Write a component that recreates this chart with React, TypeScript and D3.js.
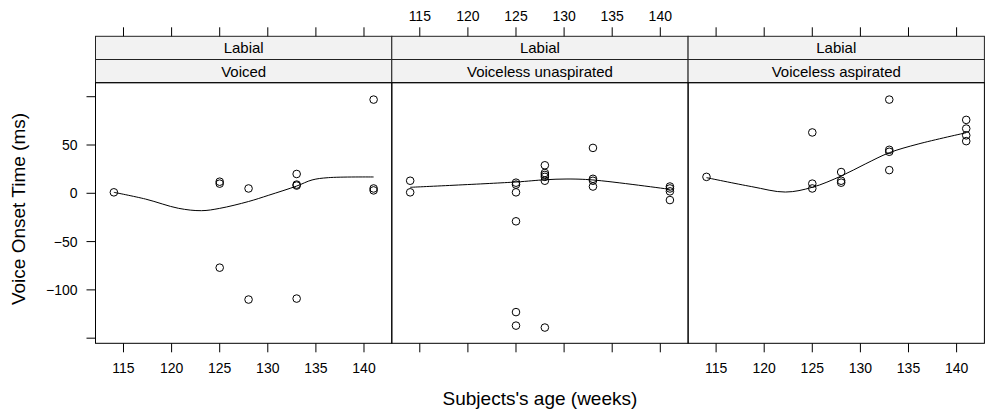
import { scaleLinear, line, curveCatmullRom } from 'd3';

const WIDTH = 985;
const HEIGHT = 414;
const FONT = '"Liberation Sans", Arial, Helvetica, sans-serif';

// panel geometry
const PANEL_LEFT = 95.5;
const PANEL_W = 296.3;
const PANEL_TOP = 82.7;
const PANEL_BOTTOM = 343.3;
const STRIP_TOP = 36.3;
const STRIP_H = 23.2;

const outerStrip = ['Labial', 'Labial', 'Labial'];
const innerStrip = ['Voiced', 'Voiceless unaspirated', 'Voiceless aspirated'];

const xTicks = [115, 120, 125, 130, 135, 140];
const yTicks = [100, 50, 0, -50, -100, -150];
const yLabelled = [50, 0, -50, -100];

// points
const voicedAge = [114, 125, 125, 125, 128, 128, 133, 133, 133, 133, 141, 141, 141];
const voicedVot = [1, 12, 10, -77, 5, -110, 20, 9, 8, -109, 97, 5, 3];

const unaspAge = [114, 114, 125, 125, 125, 125, 125, 125, 128, 128, 128, 128, 128, 128, 133, 133, 133, 133, 141, 141, 141, 141];
const unaspVot = [13, 1, 11, 9, 1, -29, -123, -137, 29, 21, 19, 17, 13, -139, 47, 15, 13, 7, 7, 5, 2, -7];

const aspAge = [114, 125, 125, 125, 128, 128, 128, 133, 133, 133, 133, 141, 141, 141, 141];
const aspVot = [17, 63, 10, 5, 22, 13, 11, 97, 45, 43, 24, 76, 67, 60, 54];

// smooth curves
const voicedSmoothAge = [114, 117.3, 120.7, 123.1, 125, 128, 130.1, 133, 134.6, 136.3, 141];
const voicedSmoothVot = [1, -6, -15.5, -18, -15.6, -8.5, -2, 7.5, 13.8, 16.2, 16.9];

const unaspSmoothAge = [114, 125, 128, 130.3, 133, 141];
const unaspSmoothVot = [6.2, 11.7, 14, 14.8, 13.8, 4.1];

const aspSmoothAge = [114, 118.7, 122.2, 125, 128, 130.5, 133, 136, 141];
const aspSmoothVot = [16.2, 6.9, 1.3, 6.2, 17.9, 30.3, 42, 51, 62.7];

const panels = [
  { age: voicedAge, vot: voicedVot, sAge: voicedSmoothAge, sVot: voicedSmoothVot },
  { age: unaspAge, vot: unaspVot, sAge: unaspSmoothAge, sVot: unaspSmoothVot },
  { age: aspAge, vot: aspVot, sAge: aspSmoothAge, sVot: aspSmoothVot },
];

export default function App() {
  const x = scaleLinear().domain([112.09, 142.89]).range([0, PANEL_W]);
  const y = scaleLinear().domain([-155.3, 114.5]).range([PANEL_BOTTOM, PANEL_TOP]);

  const smooth = line<[number, number]>()
    .x(d => x(d[0]))
    .y(d => y(d[1]))
    .curve(curveCatmullRom.alpha(0.5));

  return (
    <svg
      width={WIDTH}
      height={HEIGHT}
      style={{ position: 'absolute', left: 0, top: 0 }}
      fontFamily={FONT}
    >
      <rect width={WIDTH} height={HEIGHT} fill="#fff" />
      {panels.map((p, i) => {
        const left = PANEL_LEFT + i * PANEL_W;
        const pts = p.sAge.map((a, j) => [a, p.sVot[j]] as [number, number]);
        return (
          <g key={i}>
            {/* strips */}
            <rect x={left} y={STRIP_TOP} width={PANEL_W} height={STRIP_H} fill="#f2f2f2" stroke="#222" />
            <rect x={left} y={STRIP_TOP + STRIP_H} width={PANEL_W} height={STRIP_H} fill="#f2f2f2" stroke="#222" />
            <text x={left + PANEL_W / 2} y={STRIP_TOP + STRIP_H / 2 + 5.5} textAnchor="middle" fontSize={15}>
              {outerStrip[i]}
            </text>
            <text x={left + PANEL_W / 2} y={STRIP_TOP + STRIP_H * 1.5 + 5.5} textAnchor="middle" fontSize={15}>
              {innerStrip[i]}
            </text>

            {/* ticks top and bottom */}
            {xTicks.map(t => (
              <g key={t}>
                <line x1={left + x(t)} x2={left + x(t)} y1={STRIP_TOP} y2={STRIP_TOP - 9} stroke="#000" />
                <line x1={left + x(t)} x2={left + x(t)} y1={PANEL_BOTTOM} y2={PANEL_BOTTOM + 9} stroke="#000" />
                {i === 1 && (
                  <text x={left + x(t)} y={21} textAnchor="middle" fontSize={14}>{t}</text>
                )}
                {i !== 1 && (
                  <text x={left + x(t)} y={373} textAnchor="middle" fontSize={14}>{t}</text>
                )}
              </g>
            ))}

            <g transform={`translate(${left},0)`}>
              <path d={smooth(pts) ?? ''} fill="none" stroke="#000" strokeWidth={1} />
              {p.age.map((a, j) => (
                <circle key={j} cx={x(a)} cy={y(p.vot[j])} r={3.8} fill="none" stroke="#000" strokeWidth={1} />
              ))}
            </g>

            <rect
              x={left}
              y={PANEL_TOP}
              width={PANEL_W}
              height={PANEL_BOTTOM - PANEL_TOP}
              fill="none"
              stroke="#000"
            />
          </g>
        );
      })}

      {/* y axis */}
      {yTicks.map(t => (
        <g key={t}>
          <line x1={PANEL_LEFT - 9} x2={PANEL_LEFT} y1={y(t)} y2={y(t)} stroke="#000" />
          {yLabelled.includes(t) && (
            <text x={PANEL_LEFT - 18} y={y(t) + 5} textAnchor="end" fontSize={14}>
              {t < 0 ? `\u2212${-t}` : t}
            </text>
          )}
        </g>
      ))}

      <text
        transform={`translate(25,${(PANEL_TOP + PANEL_BOTTOM) / 2 - 4}) rotate(-90)`}
        textAnchor="middle"
        fontSize={19}
      >
        Voice Onset Time (ms)
      </text>
      <text x={PANEL_LEFT + (PANEL_W * 3) / 2} y={405} textAnchor="middle" fontSize={19}>
        Subjects's age (weeks)
      </text>
    </svg>
  );
}
